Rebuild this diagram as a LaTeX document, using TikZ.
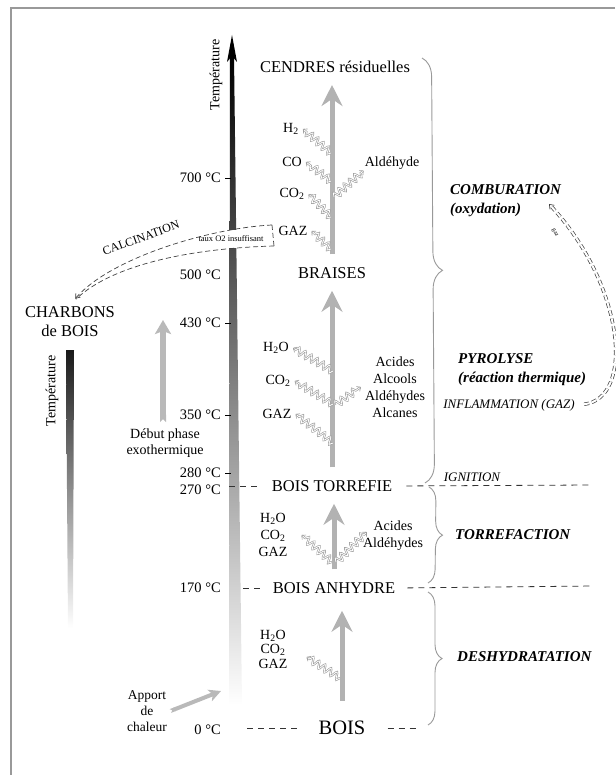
\documentclass[tikz,border=0pt]{standalone}
\usepackage{fontspec}
\setmainfont{Liberation Serif}
\usetikzlibrary{arrows.meta, decorations.pathmorphing, decorations.pathreplacing, positioning}

\begin{document}
\begin{tikzpicture}[x = 1pt, y = -1pt,
  stage/.style = {font = \fontsize{16.5}{19}\selectfont, inner sep = 2pt},
  temp/.style = {font = \fontsize{14.5}{17}\selectfont, anchor = east, inner sep = 0pt},
  gas/.style = {font = \fontsize{14}{17}\selectfont, inner xsep = 4pt, inner ysep = 1pt, align = center},
  phase/.style = {font = \fontsize{15}{19}\selectfont\bfseries\itshape, anchor = west, align = left, inner sep = 0pt},
  flow/.style = {draw = gray!60, line width = 5pt, shorten < = 11pt, shorten > = 10pt,
    -{Stealth[length = 21pt, width = 21pt, inset = 7pt]}},
  wave/.style = {draw = gray!75, line width = 0.65pt, double = white, double distance = 0.8pt,
    decorate, decoration = {snake, amplitude = 3.5pt, segment length = 7pt, post length = 3pt},
    -{Straight Barb[length = 3pt, width = 6pt]}},
  limit/.style = {draw = black!80, line width = 0.8pt, dash pattern = on 6pt off 5pt},
  phasebrace/.style = {draw = gray!80, line width = 0.9pt, decorate, decoration = {brace, amplitude = #1}},
  heat/.style = {draw = gray!55, line width = 6pt,
    {Triangle Cap[reversed]}-{Stealth[length = 14pt, width = 16pt, inset = 3pt]}},
  route/.style = {draw = black!75, line width = 0.7pt, dash pattern = on 5pt off 3pt}]

  \useasboundingbox (0,0) rectangle (615,775);
  % frame
  \draw[gray!80, line width = 1.2pt] (615,8) -- (11,8) -- (11,775);

  % temperature scale
  \shade[top color = black, bottom color = white] (230,56) -- (234,56) -- (242,705) -- (229,705) -- cycle;
  \fill (232,35) -- (237,62) -- (232,56) -- (227,62) -- cycle;
  \node[font = \fontsize{14}{16}\selectfont, rotate = 90] (tmain) at (216,75) {Température};
  \foreach \val/\y in {700/178, 500/275, 430/323, 350/415, 280/473, 270/490, 170/588, 0/730}
    \node[temp] (t\val) at (221,\y) {\val~°C};
  \foreach \val in {700, 430, 350, 280}
    \draw[line width = 0.8pt] ([xshift = 4pt]t\val.east) -- ++(6,0);

  % charcoal scale
  \shade[top color = black!90, bottom color = white] (66,350) -- (74,350) -- (73,628) -- (68,628) -- cycle;
  \node[font = \fontsize{14}{16}\selectfont, rotate = 90] (tleft) at (52,391) {Température};

  % stages
  \node[stage] (cendres) at (335,67) {CENDRES résiduelles};
  \node[stage] (braises) at (332,273) {BRAISES};
  \node[stage] (torrefie) at (332,486) {BOIS TORREFIE};
  \node[stage] (anhydre) at (334,588) {BOIS ANHYDRE};
  \node[stage, font = \fontsize{20.5}{24}\selectfont] (bois) at (342,728) {BOIS};
  \node[stage, align = center] (charbons) at (70,322) {CHARBONS\\de BOIS};

  \draw[flow] (braises.north) -- (braises.north |- cendres.south);
  \draw[flow] (torrefie.north) -- (torrefie.north |- braises.south);
  \draw[flow] (anhydre.north) -- (anhydre.north |- torrefie.south);
  \draw[flow, shorten < = 18pt, shorten > = 15pt] (bois.north) -- (bois.north |- anhydre.south);

  % limits between the phases
  \coordinate (c270) at (229,486);
  \coordinate (ign) at (592,485);
  \coordinate (c170) at (243,588);
  \coordinate (anh) at (593,586);
  \coordinate (c0) at (247,728);
  \coordinate (b0) at (418,728);
  \draw[limit, shorten > = 13pt] (c270) -- (torrefie.west);
  \draw[limit, shorten < = 12pt] (torrefie.east) -- (ign);
  \draw[limit, shorten > = 8pt] (c170) -- (anhydre.west);
  \draw[limit, shorten < = 10pt] (anhydre.east) -- (anh);
  \draw[limit, shorten > = 16pt] (c0) -- (bois.west);
  \draw[limit, shorten < = 20pt] (bois.east) -- (b0);

  % gases given off
  \node[gas] (h2) at (291,129) {H\textsubscript{2}};
  \node[gas] (co) at (292,162) {CO};
  \node[gas] (co2) at (292,194) {CO\textsubscript{2}};
  \node[gas] (gaz1) at (293,231) {GAZ};
  \node[gas, inner xsep = 1pt] (ald1) at (392,163) {Aldéhyde};
  \node[gas] (h2o2) at (276,348) {H\textsubscript{2}O};
  \node[gas] (co22) at (278,381) {CO\textsubscript{2}};
  \node[gas] (gaz2) at (277,414) {GAZ};
  \node[gas] (acid2) at (395,387) {Acides\\Alcools\\Aldéhydes\\Alcanes};
  \node[gas] (gas3) at (273,535) {H\textsubscript{2}O\\CO\textsubscript{2}\\GAZ};
  \node[gas] (acid3) at (393,536) {Acides\\Aldéhydes};
  \node[gas, font = \fontsize{14}{14.5}\selectfont] (gas4) at (273,649) {H\textsubscript{2}O\\CO\textsubscript{2}\\GAZ};

  \foreach \n/\y in {s1a/153, s1b/181, s1c/217, s1d/249}
    \coordinate (\n) at (331,\y);
  \foreach \n/\y in {s2a/371, s2b/404, s2c/443}
    \coordinate (\n) at (333,\y);
  \coordinate (r1) at (334,197);
  \coordinate (r2) at (335,405);
  \coordinate (s3) at (332,562);
  \coordinate (r3) at (336,562);
  \coordinate (s4) at (340,678);
  \draw[wave] (s1a) -- (h2.east);
  \draw[wave] (s1b) -- (co.east);
  \draw[wave] (s1c) -- (co2.east);
  \draw[wave] (s1d) -- (gaz1.east);
  \draw[wave] (r1) -- (ald1.south west);
  \draw[wave] (s2a) -- (h2o2.east);
  \draw[wave] (s2b) -- (co22.east);
  \draw[wave] (s2c) -- (gaz2.east);
  \draw[wave] (r2) -- (acid2.west);
  \draw[wave] (s3) -- ([xshift = 10pt]gas3.east);
  \draw[wave] (r3) -- ([xshift = 8pt, yshift = 4pt]acid3.west);
  \draw[wave] (s4) -- ([xshift = 15pt, yshift = -8pt]gas4.east);

  % heat input and exothermic start
  \node[font = \fontsize{14}{16}\selectfont, align = center] (debut) at (165,443) {Début phase\\exothermique};
  \coordinate (exo) at (163,320);
  \draw[heat, shorten < = 3pt] (debut.north -| exo) -- (exo);
  \node[font = \fontsize{13.5}{16}\selectfont, align = center] (apport) at (147,711) {Apport\\de\\chaleur};
  \coordinate (apt) at (221,691);
  \draw[heat, line width = 4pt, {Triangle Cap[reversed]}-{Stealth[length = 12pt, width = 12pt, inset = 3pt]}]
    (apport.east) -- (apt);

  % phases
  \draw[phasebrace = 19pt] (422,58) -- (425,483);
  \draw[phasebrace = 14pt] (429,487) -- (428,583);
  \draw[phasebrace = 14pt] (428,592) -- (428,725);
  \node[phase] (combu) at (450,201) {COMBURATION\\(oxydation)};
  \node[phase] (pyro) at (458,370) {PYROLYSE\\(réaction thermique)};
  \node[phase] (torr) at (455,535) {TORREFACTION};
  \node[phase] (desh) at (457,657) {DESHYDRATATION};
  \node[font = \fontsize{13}{15}\selectfont\itshape] (ignition) at (472,477) {IGNITION};
  \node[font = \fontsize{13}{15}\selectfont\itshape] (inflam) at (509,405) {INFLAMMATION (GAZ)};

  % calcination
  \node[fill = white, font = \fontsize{8.5}{10}\selectfont, inner xsep = 2pt, minimum height = 18pt] (taux) at (231,239) {taux O2 insuffisant};
  \node[font = \fontsize{12}{14}\selectfont, rotate = 20] (calc) at (141,238) {CALCINATION};
  \coordinate (cup) at (272,225);
  \coordinate (clo) at (274,246);
  \draw[route] (cup) -- (clo);
  \draw[route, shorten > = 8pt, -{Straight Barb[length = 4pt, width = 6pt]}]
    (cup) .. controls (210,228) and (110,258) .. (charbons.north);
  \draw[route, shorten > = 8pt] (clo) .. controls (200,248) and (115,262) .. (charbons.north);

  % inflammation
  \coordinate (cmb) at (549,204);
  \draw[route, double = white, double distance = 2pt, shorten < = 6pt, -{Straight Barb[length = 4pt, width = 6pt]}]
    (inflam.east) .. controls (635,398) and (625,285) .. (cmb);
  \node[font = \fontsize{6}{7}\selectfont, rotate = -60] (gazr) at (555,233) {gaz};
\end{tikzpicture}
\end{document}
